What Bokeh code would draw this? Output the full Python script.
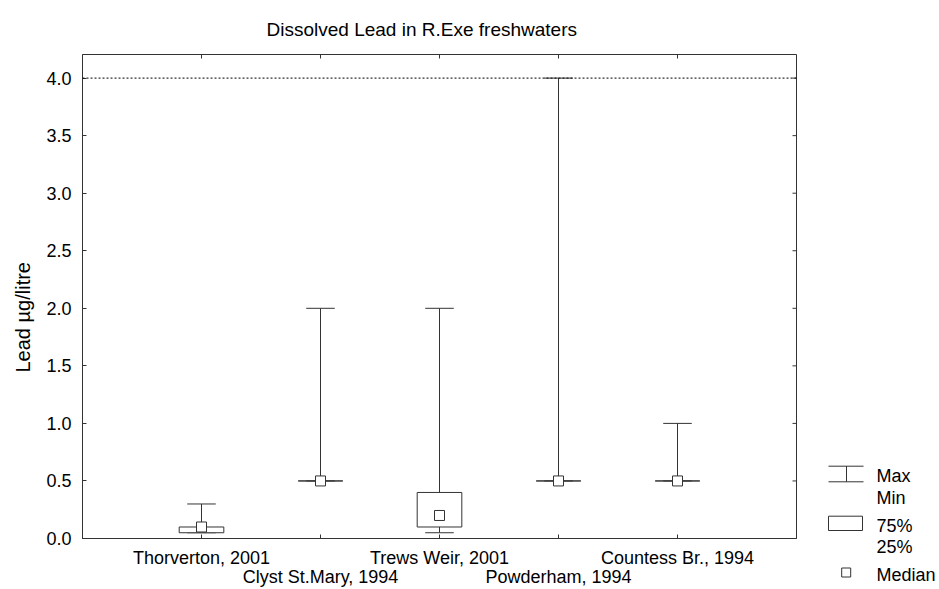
import numpy as np
from bokeh.plotting import figure
from bokeh.models import (Range1d, FixedTicker, LinearAxis, Span, Title,
                          PrintfTickFormatter, ColumnDataSource)
from bokeh.layouts import row
from bokeh.embed import file_html
from bokeh.resources import INLINE
from bokeh.core.properties import value

# ---------------- data ----------------
title_text = "Dissolved Lead in R.Exe freshwaters"
y_label = "Lead µg/litre"
sites = ["Thorverton, 2001", "Clyst St.Mary, 1994", "Trews Weir, 2001",
         "Powderham, 1994", "Countess Br., 1994"]
mins = [0.05, 0.5, 0.05, 0.5, 0.5]
q1 = [0.05, 0.5, 0.1, 0.5, 0.5]
medians = [0.1, 0.5, 0.2, 0.5, 0.5]
q3 = [0.1, 0.5, 0.4, 0.5, 0.5]
maxs = [0.3, 2.0, 2.0, 4.0, 1.0]
limit = 4.0
y_ticks = [0.0, 0.5, 1.0, 1.5, 2.0, 2.5, 3.0, 3.5, 4.0]
legend_labels = ["Max", "Min", "75%", "25%", "Median"]

# ---------------- style ----------------
FONT = "Liberation Sans"
LC = "#333333"
box_w = 0.375
cap_w = 0.24
pos = list(range(1, len(sites) + 1))
odd_pos = [pos[i] for i in range(len(sites)) if i % 2 == 0]
even_pos = [pos[i] for i in range(len(sites)) if i % 2 == 1]

p = figure(width=808, height=589, x_range=Range1d(0, 6), y_range=Range1d(0, 4.205),
           output_backend="svg", toolbar_location=None,
           x_axis_location=None, y_axis_location=None,
           min_border_left=82, min_border_right=12, min_border_top=54, min_border_bottom=50,
           background_fill_color="white", border_fill_color="white")
p.xgrid.grid_line_color = None
p.ygrid.grid_line_color = None
p.outline_line_color = LC
p.title.text = ""

def style_axis(ax):
    ax.axis_line_color = LC
    ax.major_tick_line_color = LC
    ax.minor_tick_line_color = None
    ax.major_tick_in = 4
    ax.major_tick_out = 0
    ax.major_label_text_font = FONT
    ax.major_label_text_color = "black"
    ax.major_label_text_font_size = "18px"

# left axis
ax_l = LinearAxis(ticker=FixedTicker(ticks=y_ticks), formatter=PrintfTickFormatter(format="%.1f"))
style_axis(ax_l)
ax_l.major_label_standoff = 11
p.add_layout(ax_l, "left")

# y label as a left-side title (outside the axis)
yt = Title(text=y_label, align="left", offset=166, text_font=FONT,
           text_font_size="20px", text_font_style="normal", text_color="black", standoff=19)
p.add_layout(yt, "left")

# top title
t = Title(text=title_text, align="left", offset=184, text_font=FONT,
          text_font_size="19px", text_font_style="normal", text_color="black", standoff=30)
p.add_layout(t, "above")

# bottom axis, first row of labels
ax_b1 = LinearAxis(ticker=FixedTicker(ticks=odd_pos),
                   major_label_overrides={pos[i]: sites[i] for i in range(len(sites)) if i % 2 == 0})
style_axis(ax_b1)
ax_b1.major_label_standoff = 9
p.add_layout(ax_b1, "below")

# bottom axis, second row of labels
ax_b2 = LinearAxis(ticker=FixedTicker(ticks=even_pos),
                   major_label_overrides={pos[i]: sites[i] for i in range(len(sites)) if i % 2 == 1})
style_axis(ax_b2)
ax_b2.axis_line_color = None
ax_b2.major_tick_line_color = None
ax_b2.major_tick_in = 0
ax_b2.major_label_standoff = -4
p.add_layout(ax_b2, "below")

# inward tick marks on the remaining edges
p.ray(x=even_pos, y=[p.y_range.start] * len(even_pos), length=4, length_units="screen",
      angle=np.pi / 2, line_color=LC, line_width=1)
p.ray(x=pos, y=[p.y_range.end] * len(pos), length=4, length_units="screen",
      angle=-np.pi / 2, line_color=LC, line_width=1)
p.ray(x=[p.x_range.end] * len(y_ticks), y=y_ticks, length=4, length_units="screen",
      angle=np.pi, line_color=LC, line_width=1)

# limit line
p.add_layout(Span(location=limit, dimension="width", line_dash="2 2",
                  line_color="black", line_width=1))

src = ColumnDataSource(dict(
    x=pos, lo=mins, q1=q1, med=medians, q3=q3, hi=maxs,
    bl=[x - box_w / 2 for x in pos], br=[x + box_w / 2 for x in pos],
    cl=[x - cap_w / 2 for x in pos], cr=[x + cap_w / 2 for x in pos],
))

p.segment(x0="x", y0="q3", x1="x", y1="hi", source=src, line_color=LC, line_width=1)
p.segment(x0="x", y0="lo", x1="x", y1="q1", source=src, line_color=LC, line_width=1)
p.segment(x0="cl", y0="hi", x1="cr", y1="hi", source=src, line_color=LC, line_width=1)
p.segment(x0="cl", y0="lo", x1="cr", y1="lo", source=src, line_color=LC, line_width=1)
p.quad(left="bl", right="br", bottom="q1", top="q3", source=src,
       fill_color="white", line_color=LC, line_width=1)
p.scatter(x="x", y="med", source=src, marker="square", size=10,
          fill_color="white", line_color=LC, line_width=1)

# ---------------- legend panel ----------------
lg = figure(width=131, height=589, x_range=Range1d(0, 131), y_range=Range1d(589, 0),
            output_backend="svg", toolbar_location=None,
            x_axis_location=None, y_axis_location=None, min_border=0,
            background_fill_color="white", border_fill_color="white")
lg.title.text = ""
lg.outline_line_color = None
lg.xgrid.grid_line_color = None
lg.ygrid.grid_line_color = None
for fig in (p, lg):
    try:
        fig.frame_align = False
    except Exception:
        pass

lg.segment(x0=[20, 20, 38], y0=[465.7, 481.3, 465.7], x1=[55, 55, 38], y1=[465.7, 481.3, 481.3],
           line_color=LC, line_width=1)
lg.quad(left=[20], right=[54], top=[515.7], bottom=[530], fill_color="white", line_color=LC, line_width=1)
lg.scatter(x=[37.7], y=[572], marker="square", size=9, fill_color="white", line_color=LC, line_width=1)
lg.text(x=[68] * 5, y=[475.5, 497.5, 525, 546.7, 574], text=legend_labels,
        text_font=value(FONT), text_font_size="18px", text_color="black",
        text_align="left", text_baseline="middle")

layout = row(p, lg)
open("out.html", "w").write(file_html(layout, INLINE))
